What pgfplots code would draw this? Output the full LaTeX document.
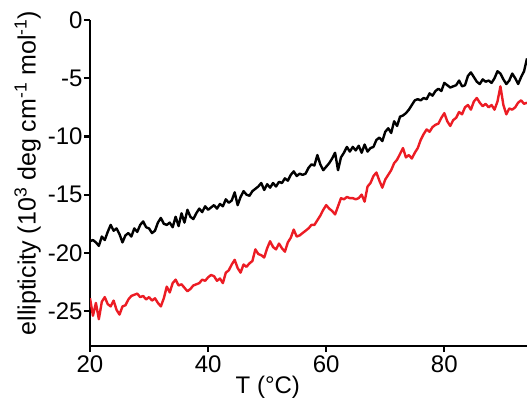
\documentclass[border=0pt]{standalone}
\usepackage{fontspec}
\setmainfont{Liberation Sans}
\usepackage{pgfplots}
\pgfplotsset{compat=1.18}
\usetikzlibrary{calc}
\definecolor{cdred}{RGB}{236,28,36}

\pgfplotstableread{
T y
20 -19.0
20.5 -18.9
21 -19.1
21.5 -19.4
22 -18.6
22.5 -18.9
23 -18.2
23.5 -17.6
24 -18.1
24.5 -17.9
25 -18.4
25.5 -19.1
26 -18.5
26.5 -18.3
27 -18.6
27.5 -17.9
28 -18.2
28.5 -17.6
29 -17.3
29.5 -17.8
30 -17.9
30.5 -18.3
31 -18.1
31.5 -17.4
32 -17.0
32.5 -17.5
33 -17.6
33.5 -17.4
34 -17.8
34.5 -16.9
35 -17.7
35.5 -16.6
36 -17.4
36.5 -16.3
37 -16.9
37.5 -17.1
38 -16.6
38.5 -16.2
39 -16.5
39.5 -16.0
40 -16.3
40.5 -16.1
41 -15.9
41.5 -16.2
42 -15.8
42.5 -16.0
43 -15.4
43.5 -15.7
44 -15.5
44.5 -14.8
45 -15.9
45.5 -15.2
46 -14.7
46.5 -15.0
47 -15.1
47.5 -14.7
48 -14.5
48.5 -14.3
49 -14.0
49.5 -14.6
50 -14.1
50.5 -14.4
51 -14.0
51.5 -14.3
52 -13.9
52.5 -14.0
53 -13.6
53.5 -13.8
54 -13.3
54.5 -13.0
55 -13.4
55.5 -13.2
56 -13.3
56.5 -13.2
57 -12.7
57.5 -12.4
58 -12.5
58.5 -11.6
59 -12.4
59.5 -12.9
60 -12.6
60.5 -12.3
61 -11.9
61.5 -11.4
62 -12.9
62.5 -11.8
63 -11.4
63.5 -10.9
64 -11.3
64.5 -10.9
65 -11.2
65.5 -10.8
66 -11.4
66.5 -10.7
67 -11.3
67.5 -11.0
68 -10.9
68.5 -10.3
69 -10.1
69.5 -10.4
70 -9.6
70.5 -9.3
71 -9.7
71.5 -8.7
72 -9.1
72.5 -8.3
73 -8.2
73.5 -8.0
74 -7.7
74.5 -7.3
75 -6.9
75.5 -6.8
76 -6.9
76.5 -6.7
77 -6.8
77.5 -6.3
78 -6.5
78.5 -6.1
79 -5.9
79.5 -6.1
80 -5.4
80.5 -5.6
81 -5.8
81.5 -5.7
82 -5.6
82.5 -5.2
83 -5.7
83.5 -5.6
84 -4.8
84.5 -4.5
85 -4.9
85.5 -5.3
86 -5.5
86.5 -5.1
87 -5.3
87.5 -5.2
88 -5.4
88.5 -5.0
89 -4.4
89.5 -4.6
90 -5.1
90.5 -5.5
91 -5.2
91.5 -4.6
92 -5.0
92.5 -5.5
93 -4.9
93.5 -4.4
94 -3.3
}\blackdata

\pgfplotstableread{
T y
20 -23.9
20.5 -25.4
21 -24.3
21.5 -25.7
22 -24.2
22.5 -23.8
23 -24.4
23.5 -24.6
24 -24.1
24.5 -24.9
25 -25.3
25.5 -24.6
26 -24.5
26.5 -24.0
27 -23.7
27.5 -23.6
28 -23.5
28.5 -23.8
29 -23.7
29.5 -24.0
30 -23.8
30.5 -24.1
31 -23.9
31.5 -24.3
32 -24.6
32.5 -23.9
33 -22.9
33.5 -23.4
34 -22.6
34.5 -22.3
35 -22.8
35.5 -22.7
36 -23.0
36.5 -23.3
37 -23.1
37.5 -22.8
38 -22.7
38.5 -22.6
39 -22.3
39.5 -22.4
40 -22.1
40.5 -21.9
41 -22.0
41.5 -22.4
42 -22.2
42.5 -22.6
43 -21.7
43.5 -21.5
44 -21.0
44.5 -20.6
45 -21.3
45.5 -21.7
46 -21.0
46.5 -21.2
47 -20.9
47.5 -20.7
48 -19.7
48.5 -20.1
49 -20.2
49.5 -20.4
50 -19.6
50.5 -19.0
51 -19.5
51.5 -19.7
52 -19.2
52.5 -19.6
53 -19.9
53.5 -19.1
54 -18.7
54.5 -18.0
55 -18.6
55.5 -18.5
56 -18.3
56.5 -18.1
57 -17.9
57.5 -17.6
58 -17.6
58.5 -17.2
59 -16.8
59.5 -16.3
60 -15.9
60.5 -16.2
61 -16.4
61.5 -16.7
62 -16.0
62.5 -15.3
63 -15.4
63.5 -15.2
64 -15.3
64.5 -15.3
65 -15.4
65.5 -15.3
66 -15.0
66.5 -15.6
67 -14.3
67.5 -14.0
68 -13.4
68.5 -13.1
69 -13.8
69.5 -14.4
70 -13.7
70.5 -13.3
71 -12.9
71.5 -12.3
72 -12.0
72.5 -11.5
73 -11.0
73.5 -11.8
74 -11.6
74.5 -11.9
75 -11.4
75.5 -11.0
76 -10.3
76.5 -9.8
77 -9.4
77.5 -9.6
78 -9.2
78.5 -9.0
79 -8.9
79.5 -8.4
80 -8.0
80.5 -8.7
81 -9.1
81.5 -8.6
82 -8.4
82.5 -7.9
83 -8.1
83.5 -7.5
84 -7.3
84.5 -7.7
85 -7.0
85.5 -6.7
86 -7.1
86.5 -7.4
87 -7.2
87.5 -7.5
88 -7.3
88.5 -7.7
89 -7.0
89.5 -5.7
90 -7.3
90.5 -8.1
91 -7.6
91.5 -7.7
92 -7.5
92.5 -7.1
93 -6.9
93.5 -7.2
94 -7.1
}\reddata

\begin{document}
\begin{tikzpicture}
\begin{axis}[
scale only axis,
width=437pt,height=326pt,
xmin=20,xmax=94,ymin=-28,ymax=0,
axis x line*=bottom,axis y line*=left,
axis line style={line width=2.6pt},
xtick={20,40,60,80},
ytick={-25,-20,-15,-10,-5,0},
yticklabels={-25,-20,-15,-10,-5,0},
tick align=outside,
major tick length=6pt,
tick style={line width=2.2pt,black},
tick label style={font=\fontsize{24}{28}\selectfont},
yticklabel style={xshift=2pt},
/pgf/number format/assume math mode=true,
xlabel={T (°C)},
ylabel={ellipticity (10\textsuperscript{3} deg cm\textsuperscript{-1} mol\textsuperscript{-1})},
xlabel style={font=\fontsize{24}{28}\selectfont,at={(ticklabel cs:0.407)},anchor=north,yshift=3pt},
ylabel style={font=\fontsize{25}{29}\selectfont,at={(ticklabel cs:0.53)},yshift=0pt},
]
\addplot[black,line width=2.4pt,line join=round] table[x=T,y=y] {\blackdata};
\addplot[cdred,line width=2.4pt,line join=round] table[x=T,y=y] {\reddata};
\end{axis}
\pgfresetboundingbox
\path ([shift={(-90pt,-61pt)}]current axis.south west) rectangle ([shift={(0pt,20pt)}]current axis.north east);
\end{tikzpicture}
\end{document}
